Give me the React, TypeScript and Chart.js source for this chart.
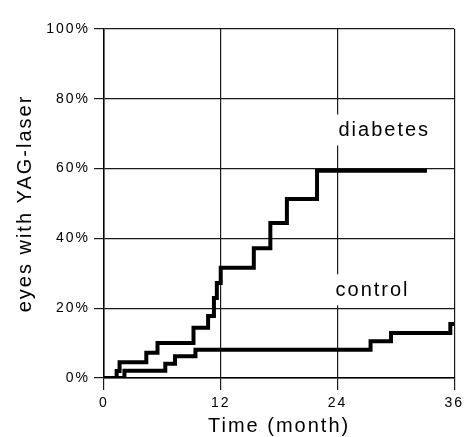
import React, { useEffect, useRef } from "react";
import { Chart, registerables } from "chart.js";

Chart.register(...registerables);

// Kaplan-Meier style step data (months, % of eyes)
const diabetesTimes = [0, 1.3, 1.6, 4.35, 5.5, 9.2, 10.7, 11.3, 11.6, 12.0, 15.4, 17.1, 18.8, 21.9, 33.2];
const diabetesPct = [0, 2, 4.5, 7.2, 10, 14.4, 17.8, 22.9, 27.2, 31.6, 37.2, 44.4, 51.3, 59.4, 59.4];
const controlTimes = [0, 2.1, 6.3, 7.3, 9.4, 27.4, 29.5, 35.6, 36];
const controlPct = [0, 2.1, 4.1, 6.2, 8.1, 10.5, 12.9, 15.5, 15.5];

const xTicks = [0, 12, 24, 36];
const yTicks = [0, 20, 40, 60, 80, 100];

const labelTexts = ["diabetes", "control"];
const labelMonths = [24.1, 23.8];
const labelPcts = [69.2, 23.4];

const FONT = "'Liberation Sans', Arial, Helvetica, sans-serif";

export default function App() {
  const ref = useRef<HTMLCanvasElement | null>(null);

  useEffect(() => {
    const canvas = ref.current;
    if (!canvas) return;

    const spacingPlugin = {
      id: "spacing",
      beforeDraw(chart: any) {
        chart.ctx.letterSpacing = "2px";
      },
    };

    const labelPlugin = {
      id: "groupLabels",
      afterDatasetsDraw(chart: any) {
        const ctx = chart.ctx;
        const xs = chart.scales.x;
        const ys = chart.scales.y;
        ctx.save();
        ctx.font = `20px ${FONT}`;
        ctx.letterSpacing = "2px";
        ctx.textAlign = "left";
        ctx.textBaseline = "alphabetic";
        labelTexts.forEach((t, i) => {
          const px = xs.getPixelForValue(labelMonths[i]);
          const py = ys.getPixelForValue(labelPcts[i]);
          const w = ctx.measureText(t).width;
          ctx.fillStyle = "#ffffff";
          ctx.fillRect(px - 3, py - 22, w + 6, 31);
          ctx.fillStyle = "#000000";
          ctx.fillText(t, px, py);
        });
        ctx.restore();
      },
    };

    const chart = new Chart(canvas, {
      type: "line",
      data: {
        datasets: [
          {
            label: "diabetes",
            data: diabetesTimes.map((t, i) => ({ x: t, y: diabetesPct[i] })),
            stepped: "before",
            borderColor: "#000000",
            borderWidth: 4,
            pointRadius: 0,
            fill: false,
          },
          {
            label: "control",
            data: controlTimes.map((t, i) => ({ x: t, y: controlPct[i] })),
            stepped: "before",
            borderColor: "#000000",
            borderWidth: 4,
            pointRadius: 0,
            fill: false,
          },
        ],
      },
      options: {
        responsive: false,
        animation: false,
        layout: { padding: { top: 29, right: 9, left: 0, bottom: 0 } },
        plugins: {
          legend: { display: false },
          tooltip: { enabled: false },
        },
        scales: {
          x: {
            type: "linear",
            min: 0,
            max: 36,
            afterBuildTicks: (scale: any) => {
              scale.ticks = xTicks.map((v) => ({ value: v }));
            },
            afterFit: (scale: any) => {
              scale.height = 59;
            },
            grid: {
              color: "#1a1a1a",
              lineWidth: 1.2,
              tickLength: 12,
              drawTicks: true,
            },
            border: { display: true, color: "#000000", width: 1.5 },
            ticks: {
              color: "#000000",
              font: { family: FONT, size: 14 },
              padding: 5,
              maxRotation: 0,
            },
            title: {
              display: true,
              text: "Time (month)",
              color: "#000000",
              font: { family: FONT, size: 20, lineHeight: 1 },
              padding: { top: 0, bottom: 1 },
            },
          },
          y: {
            type: "linear",
            min: 0,
            max: 100,
            afterBuildTicks: (scale: any) => {
              scale.ticks = yTicks.map((v) => ({ value: v }));
            },
            afterFit: (scale: any) => {
              scale.width = 104;
            },
            grid: {
              color: "#1a1a1a",
              lineWidth: 1.2,
              tickLength: 10,
              drawTicks: true,
            },
            border: { display: true, color: "#000000", width: 1.5 },
            ticks: {
              color: "#000000",
              font: { family: FONT, size: 14 },
              padding: 4,
              callback: (v: any) => `${v}%`,
            },
            title: {
              display: true,
              text: "eyes with YAG-laser",
              color: "#000000",
              font: { family: FONT, size: 20, lineHeight: 1.2 },
              padding: { top: 13, bottom: 0 },
            },
          },
        },
      },
      plugins: [spacingPlugin, labelPlugin],
    } as any);

    return () => chart.destroy();
  }, []);

  return (
    <div style={{ position: "absolute", left: 0, top: 0, width: 467, height: 437, background: "#fff" }}>
      <canvas ref={ref} width={467} height={437} style={{ display: "block", width: 467, height: 437 }} />
    </div>
  );
}
